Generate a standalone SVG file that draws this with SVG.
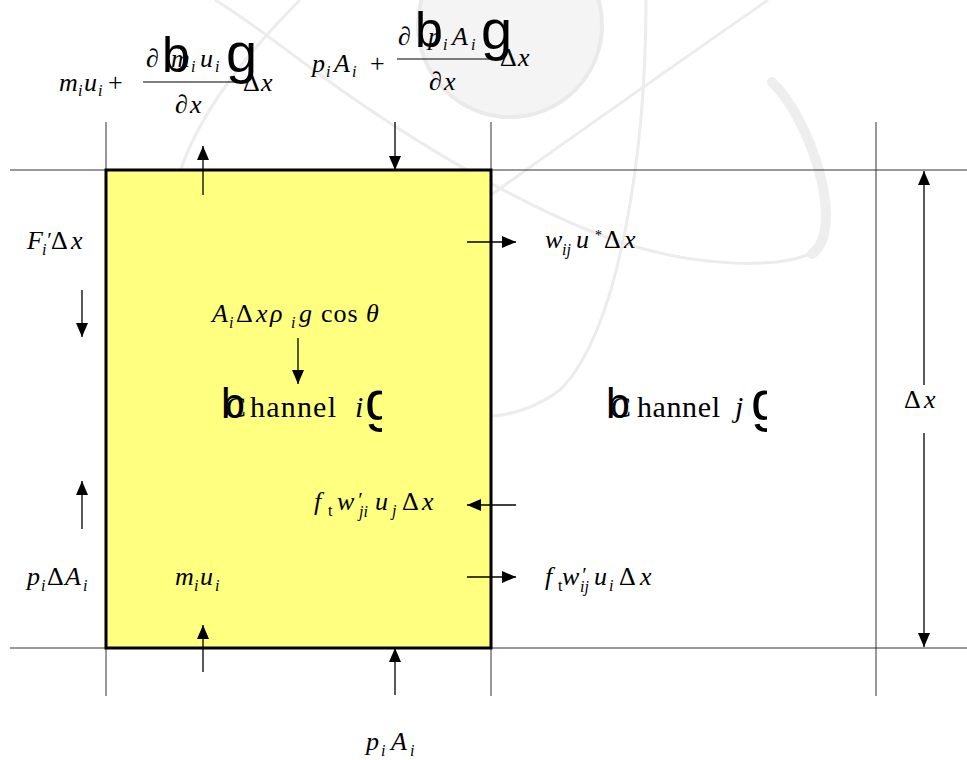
<svg xmlns="http://www.w3.org/2000/svg" width="967" height="760" viewBox="0 0 967 760">
<style>
.m{font-family:"Liberation Serif","Times New Roman",serif;font-size:26px;fill:#000}
.it{font-style:italic}
.sb{font-size:16px}
.big{font-family:"Liberation Sans",Arial,sans-serif;fill:#000}
.grid{stroke:#333;stroke-width:1;fill:none}
.arr{stroke:#000;stroke-width:1.3;fill:none;marker-end:url(#ah)}
.wm{fill:none;stroke:#ececec;stroke-width:3}
</style>
<defs>
<marker id="ah" markerUnits="userSpaceOnUse" markerWidth="14" markerHeight="12" refX="14" refY="6" orient="auto">
<path d="M0,0 L14,6 L0,12 z" fill="#000"/>
</marker>
<clipPath id="ci"><rect x="340" y="380" width="42" height="60"/></clipPath>
<clipPath id="cj"><rect x="725" y="380" width="42" height="60"/></clipPath>
</defs>
<rect width="967" height="760" fill="#fff"/>
<g id="watermark">
<circle cx="510" cy="25" r="92" fill="#f4f4f4" stroke="#eaeaea" stroke-width="4"/>
<path class="wm" d="M646,0 C646,150 620,330 560,390 C540,405 515,415 491,416"/>
<path class="wm" d="M768,0 Q610,110 491,195"/>
<path class="wm" d="M818,250 C780,272 690,265 620,242 C540,215 420,150 300,60 C260,30 235,12 215,0"/>
<path class="wm" d="M300,0 C250,50 200,110 180,172"/>
<path d="M772,82 C800,110 825,170 826,215 C826,235 820,248 812,254" fill="none" stroke="#eeeeee" stroke-width="10" stroke-linecap="round"/>
</g>
<g id="grid">
<line class="grid" x1="10" y1="170" x2="967" y2="170"/>
<line class="grid" x1="10" y1="648" x2="967" y2="648"/>
<line class="grid" x1="106" y1="122" x2="106" y2="696"/>
<line class="grid" x1="491" y1="122" x2="491" y2="696"/>
<line class="grid" x1="876" y1="122" x2="876" y2="696"/>
</g>
<g id="channel-i-box">
<rect x="106" y="170" width="385" height="478" fill="#ffff80" stroke="#000" stroke-width="3"/>
</g>
<g id="connectors">
<line class="arr" x1="203" y1="195" x2="203" y2="146"/>
<line class="arr" x1="395" y1="122" x2="395" y2="170"/>
<line class="arr" x1="467" y1="242" x2="516" y2="242"/>
<line class="arr" x1="82" y1="290" x2="82" y2="337"/>
<line class="arr" x1="298" y1="338" x2="298" y2="384"/>
<line class="arr" x1="82" y1="529" x2="82" y2="481"/>
<line class="arr" x1="516" y1="505" x2="467" y2="505"/>
<line class="arr" x1="467" y1="577" x2="516" y2="577"/>
<line class="arr" x1="203" y1="672" x2="203" y2="625"/>
<line class="arr" x1="395" y1="695" x2="395" y2="648"/>
<line class="arr" x1="924" y1="385" x2="924" y2="171"/>
<line class="arr" x1="924" y1="433" x2="924" y2="647"/>
</g>
<g id="label-momentum-out">
<text class="m"><tspan class="it" x="59" y="91">m</tspan><tspan class="it sb" x="78" y="96">i</tspan><tspan class="it" x="84" y="91">u</tspan><tspan class="it sb" x="98" y="96">i</tspan><tspan x="108" y="91">+</tspan></text>
<text class="m"><tspan x="146" y="67">∂</tspan><tspan class="it" x="171" y="67">m</tspan><tspan class="it sb" x="191" y="72">i</tspan><tspan class="it" x="200" y="67">u</tspan><tspan class="it sb" x="215" y="72">i</tspan></text>
<text class="big" x="162" y="72" font-size="50">b</text>
<text class="big" x="226" y="72" font-size="56">g</text>
<line x1="143" y1="82" x2="241" y2="82" stroke="#000" stroke-width="1.2"/>
<text class="m"><tspan x="243" y="91">Δ</tspan><tspan class="it" x="261" y="91">x</tspan></text>
<text class="m"><tspan x="175" y="113">∂</tspan><tspan class="it" x="190" y="113">x</tspan></text>
</g>
<g id="label-pressure-out">
<text class="m"><tspan class="it" x="312" y="72">p</tspan><tspan class="it sb" x="326" y="77">i</tspan><tspan class="it" x="334" y="72">A</tspan><tspan class="it sb" x="352" y="77">i</tspan><tspan x="370" y="72">+</tspan></text>
<text class="m"><tspan x="398" y="45">∂</tspan><tspan class="it" x="428" y="45">p</tspan><tspan class="it sb" x="443" y="50">i</tspan><tspan class="it" x="452" y="45">A</tspan><tspan class="it sb" x="471" y="50">i</tspan></text>
<text class="big" x="415" y="47" font-size="50">b</text>
<text class="big" x="481" y="49" font-size="56">g</text>
<line x1="397" y1="59" x2="500" y2="59" stroke="#000" stroke-width="1.2"/>
<text class="m"><tspan x="500" y="66">Δ</tspan><tspan class="it" x="518" y="66">x</tspan></text>
<text class="m"><tspan x="429" y="90">∂</tspan><tspan class="it" x="444" y="90">x</tspan></text>
</g>
<g id="label-friction">
<text class="m"><tspan class="it" x="27" y="249">F</tspan><tspan class="it sb" x="42" y="255">i</tspan><tspan class="it" x="46" y="247" font-size="21">′</tspan><tspan x="51" y="249">Δ</tspan><tspan class="it" x="71" y="249">x</tspan></text>
</g>
<g id="label-gravity">
<text class="m"><tspan class="it" x="212" y="322">A</tspan><tspan class="it sb" x="229" y="328">i</tspan><tspan x="236" y="322">Δ</tspan><tspan class="it" x="256" y="322">x</tspan><tspan class="it" x="270" y="322">ρ</tspan><tspan class="it sb" x="291" y="328">i</tspan><tspan class="it" x="299" y="322">g</tspan><tspan x="321" y="322" letter-spacing="1">cos</tspan><tspan class="it" x="366" y="322">θ</tspan></text>
</g>
<g id="channel-i-label">
<text class="m" x="226" y="417" style="font-size:30px">C</text>
<text class="big" x="221" y="418" font-size="43">b</text>
<text class="m" x="250" y="417" style="font-size:30px" letter-spacing="1.2">hannel</text>
<text class="m it" x="355" y="417" style="font-size:30px">i</text>
<text class="big" x="365" y="420" font-size="56" clip-path="url(#ci)">g</text>
</g>
<g id="channel-j-label">
<text class="m" x="611" y="417" style="font-size:30px">C</text>
<text class="big" x="606" y="418" font-size="43">b</text>
<text class="m" x="637" y="417" style="font-size:30px" letter-spacing="0.6">hannel</text>
<text class="m it" x="735" y="417" style="font-size:30px">j</text>
<text class="big" x="751" y="420" font-size="56" clip-path="url(#cj)">g</text>
</g>
<g id="label-crossflow">
<text class="m"><tspan class="it" x="545" y="248">w</tspan><tspan class="it sb" x="562" y="255">ij</tspan><tspan class="it" x="576" y="248">u</tspan><tspan x="595" y="240" font-size="14">*</tspan><tspan x="604" y="248">Δ</tspan><tspan class="it" x="624" y="248">x</tspan></text>
</g>
<g id="label-turb-in">
<text class="m"><tspan class="it" x="314" y="510">f</tspan><tspan class="sb" x="328" y="516">t</tspan><tspan class="it" x="337" y="510">w</tspan><tspan class="it" x="357" y="507" font-size="21">′</tspan><tspan class="it sb" x="359" y="517">ji</tspan><tspan class="it" x="375" y="510">u</tspan><tspan class="it sb" x="392" y="516">j</tspan><tspan x="402" y="510">Δ</tspan><tspan class="it" x="422" y="510">x</tspan></text>
</g>
<g id="label-area-change">
<text class="m"><tspan class="it" x="27" y="585">p</tspan><tspan class="it sb" x="41" y="591">i</tspan><tspan x="47" y="585">Δ</tspan><tspan class="it" x="65" y="585">A</tspan><tspan class="it sb" x="83" y="591">i</tspan></text>
</g>
<g id="label-momentum-in">
<text class="m"><tspan class="it" x="175" y="585">m</tspan><tspan class="it sb" x="194" y="591">i</tspan><tspan class="it" x="200" y="585">u</tspan><tspan class="it sb" x="215" y="591">i</tspan></text>
</g>
<g id="label-turb-out">
<text class="m"><tspan class="it" x="545" y="585">f</tspan><tspan class="sb" x="558" y="591">t</tspan><tspan class="it" x="562" y="585">w</tspan><tspan class="it" x="581" y="582" font-size="21">′</tspan><tspan class="it sb" x="580" y="592">ij</tspan><tspan class="it" x="594" y="585">u</tspan><tspan class="it sb" x="609" y="591">i</tspan><tspan x="619" y="585">Δ</tspan><tspan class="it" x="640" y="585">x</tspan></text>
</g>
<g id="label-pressure-in">
<text class="m"><tspan class="it" x="366" y="750">p</tspan><tspan class="it sb" x="381" y="756">i</tspan><tspan class="it" x="391" y="750">A</tspan><tspan class="it sb" x="410" y="756">i</tspan></text>
</g>
<g id="label-dx">
<text class="m"><tspan x="904" y="408">Δ</tspan><tspan class="it" x="924" y="408">x</tspan></text>
</g>
</svg>
